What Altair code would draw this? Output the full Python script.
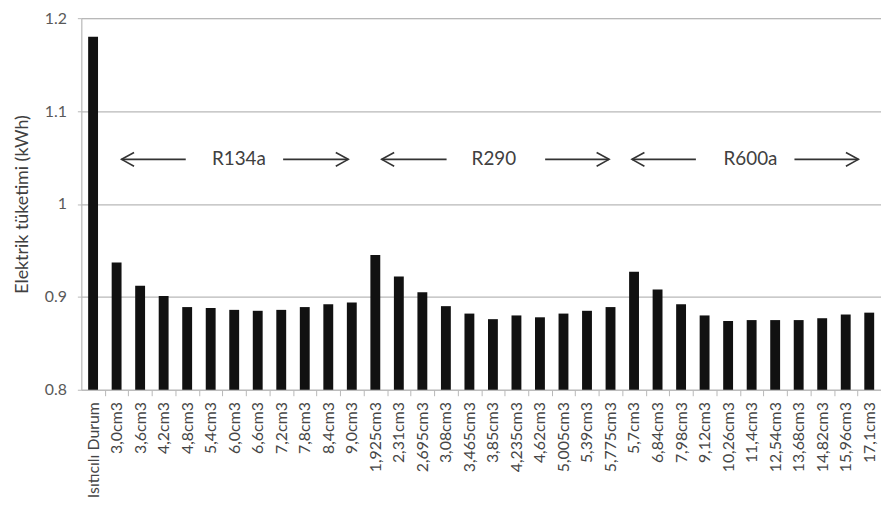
import json
import altair as alt
import pandas as pd

categories = [
    "Isıtıcılı Durum",
    "3,0cm3", "3,6cm3", "4,2cm3", "4,8cm3", "5,4cm3", "6,0cm3", "6,6cm3", "7,2cm3", "7,8cm3", "8,4cm3", "9,0cm3",
    "1,925cm3", "2,31cm3", "2,695cm3", "3,08cm3", "3,465cm3", "3,85cm3", "4,235cm3", "4,62cm3", "5,005cm3", "5,39cm3", "5,775cm3",
    "5,7cm3", "6,84cm3", "7,98cm3", "9,12cm3", "10,26cm3", "11,4cm3", "12,54cm3", "13,68cm3", "14,82cm3", "15,96cm3", "17,1cm3",
]
values = [
    1.18,
    0.937, 0.912, 0.901, 0.889, 0.888, 0.886, 0.885, 0.886, 0.889, 0.892, 0.894,
    0.945, 0.922, 0.905, 0.890, 0.882, 0.876, 0.880, 0.878, 0.882, 0.885, 0.889,
    0.927, 0.908, 0.892, 0.880, 0.874, 0.875, 0.875, 0.875, 0.877, 0.881, 0.883,
]

# annotation (positions in category-index units, y in kWh)
ann_labels = ["R134a", "R290", "R600a"]
ann_label_x = [6.2, 17.04, 27.95]
ann_y = 1.048
arrow_left_start = [1.21, 12.27, 22.91]
arrow_left_end = [3.94, 15.03, 25.63]
arrow_right_start = [8.08, 19.22, 29.82]
arrow_right_end = [10.85, 21.94, 32.54]

FONT = "Lato"
W, H = 807, 375
n = len(categories)
step = W / n
BAR_HALF = 0.21  # half of bar width as a fraction of the category step

df = pd.DataFrame({"idx": list(range(n)), "cat": categories, "val": values})
text_df = pd.DataFrame({"x": ann_label_x, "val": [ann_y] * 3, "label": ann_labels})
shaft_df = pd.DataFrame({
    "x": arrow_left_start + arrow_right_start,
    "x2": arrow_left_end + arrow_right_end,
    "val": [ann_y] * 6,
})
lhead_df = pd.DataFrame({"x": arrow_left_start, "val": [ann_y] * 3})
rhead_df = pd.DataFrame({"x": arrow_right_end, "val": [ann_y] * 3})

x_scale = alt.Scale(domain=[-0.5, n - 0.5], nice=False, zero=False, padding=0)
y_scale = alt.Scale(domain=[0.8, 1.2], nice=False, zero=False, padding=0)

x_axis = alt.Axis(
    title=None, values=list(range(n)), grid=False,
    labelExpr=json.dumps(categories, ensure_ascii=False) + "[datum.value]",
    labelAngle=-90, labelFont=FONT, labelFontSize=16, labelColor="#454545",
    labelPadding=6, labelFlush=False, labelOverlap=False, labelBound=False,
    tickOffset=step / 2, labelOffset=-step / 2,
    tickSize=6, tickColor="#b8b8b8", domainColor="#b8b8b8",
)
y_axis = alt.Axis(
    values=[0.8, 0.9, 1.0, 1.1, 1.2], format="~g",
    title="Elektrik tüketimi (kWh)", titleFont=FONT, titleFontSize=18, titleFontWeight="normal",
    titleColor="#404040", titlePadding=13,
    labelFont=FONT, labelFontSize=16, labelColor="#595959", labelPadding=11,
    gridColor="#b8b8b8", gridWidth=1.2, domainColor="#b8b8b8", tickColor="#b8b8b8", tickSize=4,
)

bars = alt.Chart(df).transform_calculate(
    x0=f"datum.idx - {BAR_HALF}", x1=f"datum.idx + {BAR_HALF}"
).mark_rect(color="#111111").encode(
    x=alt.X("x0:Q", scale=x_scale, axis=x_axis),
    x2="x1:Q",
    y=alt.Y("val:Q", scale=y_scale, axis=y_axis),
    y2=alt.datum(0.8),
)

texts = alt.Chart(text_df).mark_text(font=FONT, fontSize=19, color="#404040", baseline="middle").encode(
    x=alt.X("x:Q", scale=x_scale, axis=x_axis),
    y=alt.Y("val:Q", scale=y_scale, axis=y_axis),
    text="label:N",
)
shafts = alt.Chart(shaft_df).mark_rule(color="#333333", strokeWidth=1.6).encode(
    x=alt.X("x:Q", scale=x_scale, axis=x_axis),
    x2="x2:Q",
    y=alt.Y("val:Q", scale=y_scale, axis=y_axis),
)
lheads = alt.Chart(lhead_df).mark_point(
    shape="M1.8,-1L0,0L1.8,1", size=196, filled=False, strokeWidth=1.6, color="#333333", opacity=1
).encode(
    x=alt.X("x:Q", scale=x_scale, axis=x_axis),
    y=alt.Y("val:Q", scale=y_scale, axis=y_axis),
)
rheads = alt.Chart(rhead_df).mark_point(
    shape="M-1.8,-1L0,0L-1.8,1", size=196, filled=False, strokeWidth=1.6, color="#333333", opacity=1
).encode(
    x=alt.X("x:Q", scale=x_scale, axis=x_axis),
    y=alt.Y("val:Q", scale=y_scale, axis=y_axis),
)

chart = alt.layer(bars, shafts, lheads, rheads, texts).properties(
    width=W, height=H,
    autosize=alt.AutoSizeParams(type="none"),
    padding={"left": 74, "right": 0, "top": 8, "bottom": 110},
).configure_view(stroke=None).configure(background="white")

chart.save("out.html", embed_options={"renderer": "svg", "actions": False})
